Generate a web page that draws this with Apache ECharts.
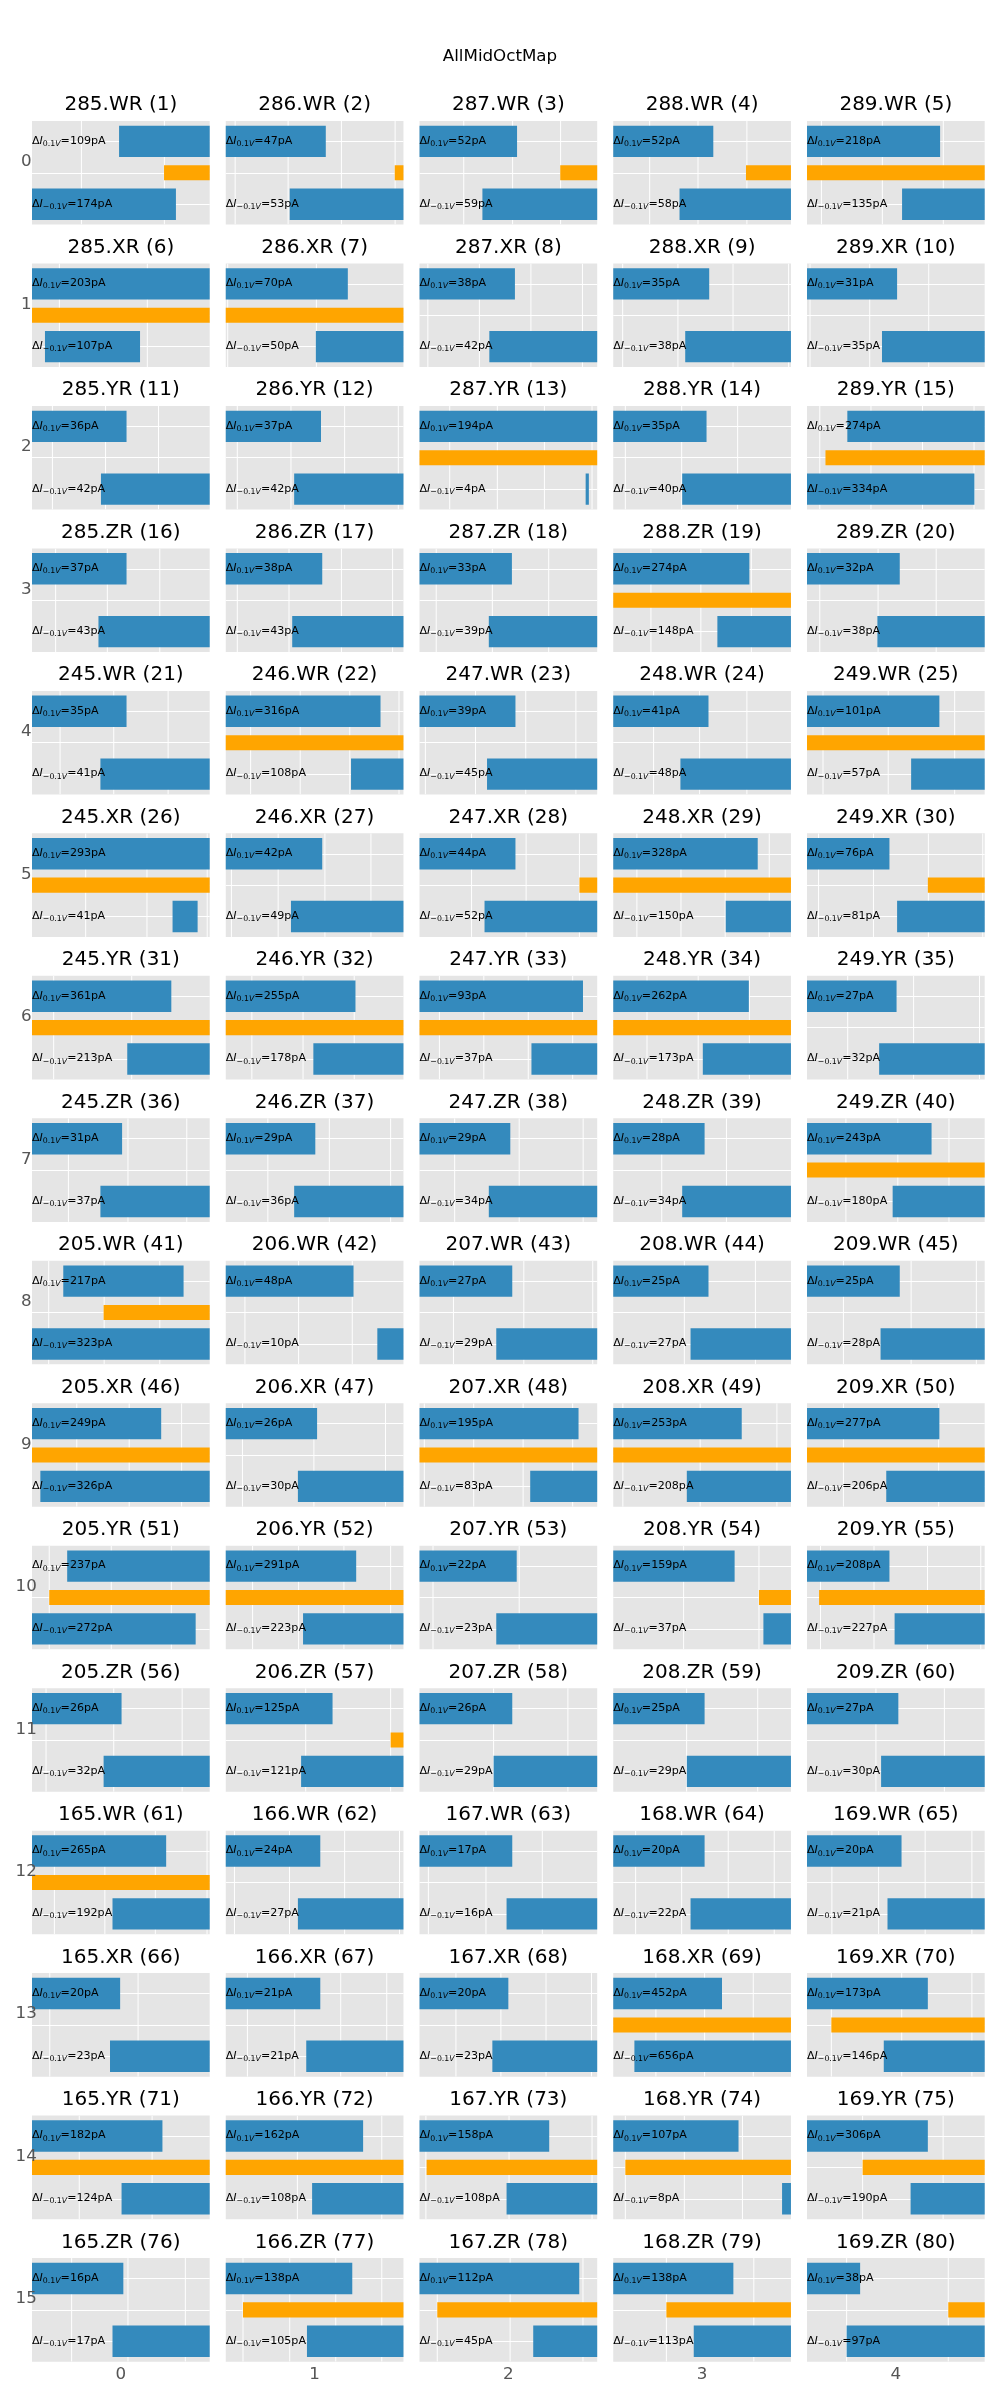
<!DOCTYPE html>
<html>
<head>
<meta charset="utf-8">
<script src="https://cdn.jsdelivr.net/npm/echarts@6/dist/echarts.min.js"></script>
<style>
html,body{margin:0;padding:0;background:#ffffff;}
#chart{width:1000px;height:2400px;}
</style>
</head>
<body>
<div id="chart"></div>
<script>
// ---------------- data ----------------
const mainTitle = 'AllMidOctMap';
const rowLabels = ['0','1','2','3','4','5','6','7','8','9','10','11','12','13','14','15'];
const colLabels = ['0','1','2','3','4'];

const panelTitles = [
  '285.WR (1)','286.WR (2)','287.WR (3)','288.WR (4)','289.WR (5)',
  '285.XR (6)','286.XR (7)','287.XR (8)','288.XR (9)','289.XR (10)',
  '285.YR (11)','286.YR (12)','287.YR (13)','288.YR (14)','289.YR (15)',
  '285.ZR (16)','286.ZR (17)','287.ZR (18)','288.ZR (19)','289.ZR (20)',
  '245.WR (21)','246.WR (22)','247.WR (23)','248.WR (24)','249.WR (25)',
  '245.XR (26)','246.XR (27)','247.XR (28)','248.XR (29)','249.XR (30)',
  '245.YR (31)','246.YR (32)','247.YR (33)','248.YR (34)','249.YR (35)',
  '245.ZR (36)','246.ZR (37)','247.ZR (38)','248.ZR (39)','249.ZR (40)',
  '205.WR (41)','206.WR (42)','207.WR (43)','208.WR (44)','209.WR (45)',
  '205.XR (46)','206.XR (47)','207.XR (48)','208.XR (49)','209.XR (50)',
  '205.YR (51)','206.YR (52)','207.YR (53)','208.YR (54)','209.YR (55)',
  '205.ZR (56)','206.ZR (57)','207.ZR (58)','208.ZR (59)','209.ZR (60)',
  '165.WR (61)','166.WR (62)','167.WR (63)','168.WR (64)','169.WR (65)',
  '165.XR (66)','166.XR (67)','167.XR (68)','168.XR (69)','169.XR (70)',
  '165.YR (71)','166.YR (72)','167.YR (73)','168.YR (74)','169.YR (75)',
  '165.ZR (76)','166.ZR (77)','167.ZR (78)','168.ZR (79)','169.ZR (80)'
];

// ΔI at +0.1V and -0.1V (pA)
const dIPos = [
  109,47,52,52,218,  203,70,38,35,31,  36,37,194,35,274,  37,38,33,274,32,
  35,316,39,41,101,  293,42,44,328,76, 361,255,93,262,27, 31,29,29,28,243,
  217,48,27,25,25,   249,26,195,253,277, 237,291,22,159,208, 26,125,26,25,27,
  265,24,17,20,20,   20,21,20,452,173, 182,162,158,107,306, 16,138,112,138,38
];
const dINeg = [
  174,53,59,58,135,  107,50,42,38,35,  42,42,4,40,334,  43,43,39,148,38,
  41,108,45,48,57,   41,49,52,150,81,  213,178,37,173,32, 37,36,34,34,180,
  323,10,29,27,28,   326,30,83,208,206, 272,223,23,37,227, 32,121,29,29,30,
  192,27,16,22,21,   23,21,23,656,146, 124,108,108,8,190, 17,105,45,113,97
];

// bar extents [start, end] on each panel's x range (0..1)
const topBars = [
  [0.49,1],[0,0.563],[0,0.549],[0,0.563],[0,0.749],
  [0,1],[0,0.687],[0,0.537],[0,0.54],[0,0.507],
  [0,0.532],[0,0.536],[0,1],[0,0.525],[0.227,1],
  [0,0.532],[0,0.543],[0,0.52],[0,0.766],[0,0.522],
  [0,0.532],[0,0.871],[0,0.54],[0,0.536],[0,0.745],
  [0,1],[0,0.543],[0,0.54],[0,0.813],[0,0.464],
  [0,0.784],[0,0.73],[0,0.92],[0,0.763],[0,0.504],
  [0,0.507],[0,0.504],[0,0.511],[0,0.514],[0,0.701],
  [0.176,0.853],[0,0.719],[0,0.522],[0,0.536],[0,0.522],
  [0,0.727],[0,0.514],[0,0.895],[0,0.723],[0,0.745],
  [0.198,1],[0,0.734],[0,0.547],[0,0.683],[0,0.464],
  [0,0.504],[0,0.601],[0,0.522],[0,0.514],[0,0.514],
  [0,0.755],[0,0.532],[0,0.522],[0,0.514],[0,0.532],
  [0,0.496],[0,0.532],[0,0.5],[0,0.612],[0,0.68],
  [0,0.734],[0,0.773],[0,0.73],[0,0.705],[0,0.68],
  [0,0.514],[0,0.712],[0,0.899],[0,0.676],[0,0.299]
];
const midBars = [
  [0.743,1],[0.951,1],[0.792,1],[0.747,1],[0,1],
  [0,1],[0,1],null,null,null,
  null,null,[0,1],null,[0.104,1],
  null,null,null,[0,1],null,
  null,[0,1],null,null,[0,1],
  [0,1],null,[0.9,1],[0,1],[0.68,1],
  [0,1],[0,1],[0,1],[0,1],null,
  null,null,null,null,[0,1],
  [0.403,1],null,null,null,null,
  [0,1],null,[0,1],[0,1],[0,1],
  [0.097,1],[0,1],null,[0.82,1],[0.068,1],
  null,[0.928,1],null,null,null,
  [0,1],null,null,null,null,
  null,null,null,[0,1],[0.137,1],
  [0,1],[0,1],[0.04,1],[0.068,1],[0.313,1],
  null,[0.097,1],[0.1,1],[0.299,1],[0.795,1]
];
const botBars = [
  [0,0.81],[0.36,1],[0.354,1],[0.373,1],[0.535,1],
  [0.073,0.608],[0.507,1],[0.393,1],[0.405,1],[0.422,1],
  [0.388,1],[0.385,1],[0.935,0.953],[0.388,1],[0,0.942],
  [0.374,1],[0.374,1],[0.39,1],[0.586,1],[0.396,1],
  [0.385,1],[0.705,1],[0.38,1],[0.378,1],[0.586,1],
  [0.791,0.932],[0.367,1],[0.366,1],[0.633,1],[0.507,1],
  [0.536,1],[0.493,1],[0.63,1],[0.504,1],[0.406,1],
  [0.385,1],[0.385,1],[0.39,1],[0.388,1],[0.482,1],
  [0,1],[0.853,1],[0.432,1],[0.435,1],[0.414,1],
  [0.047,1],[0.406,1],[0.623,1],[0.414,1],[0.446,1],
  [0,0.921],[0.435,1],[0.432,1],[0.845,1],[0.493,1],
  [0.403,1],[0.424,1],[0.417,1],[0.414,1],[0.417,1],
  [0.453,1],[0.406,1],[0.49,1],[0.435,1],[0.453,1],
  [0.439,1],[0.453,1],[0.41,1],[0.119,1],[0.432,1],
  [0.504,1],[0.486,1],[0.49,1],[0.95,1],[0.583,1],
  [0.453,1],[0.457,1],[0.64,1],[0.453,1],[0.223,1]
];
// x tick (grid line) positions of each panel
const gridTicks = [
  [0.278,0.745],[0.053,0.351,0.651,0.953],[0.249,0.524,0.794],[0.205,0.477,0.752],[0.081,0.424,0.767],
  [0.154,0.649],[0.011,0.51],[0.047,0.337,0.627,0.917],[0.053,0.364,0.674,0.987],[0.017,0.353,0.685],
  [0.115,0.414,0.712],[0.065,0.367,0.669,0.971],[0.17,0.438,0.703,0.971],[0.068,0.385,0.70],[0.072,0.36,0.65,0.94],
  [0.133,0.424,0.719],[0.065,0.356,0.651,0.939],[0.094,0.41,0.727],[0.212,0.493,0.777],[0.072,0.4,0.727],
  [0.158,0.46,0.766],[0.14,0.419,0.698,0.975],[0.033,0.315,0.598,0.88],[0.227,0.486,0.752],[0.09,0.457,0.831],
  [0.302,0.647,0.986],[0.032,0.295,0.558,0.817],[0.293,0.6,0.9],[0.133,0.381,0.63,0.878],[0.065,0.374,0.683,0.989],
  [0.122,0.561],[0.147,0.435,0.723],[0.112,0.362,0.612,0.862],[0.19,0.478,0.766],[0.229,0.6,0.971],
  [0.205,0.54,0.871],[0.237,0.583,0.928],[0.198,0.561,0.921],[0.273,0.637],[0.219,0.511,0.799],
  [0.094,0.406,0.719],[0.108,0.41,0.712],[0.191,0.587,0.975],[0.4,0.8],[0.205,0.586,0.953],
  [0.252,0.547,0.842],[0.094,0.496,0.899],[0.027,0.305,0.583,0.862],[0.054,0.489,0.921],[0.205,0.741],
  [0.097,0.446,0.784],[0.151,0.41,0.665,0.928],[0.076,0.561],[0.396,0.82],[0.076,0.377,0.678,0.978],
  [0.079,0.46,0.845],[0.45,0.928],[0.417,0.835],[0.413,0.813],[0.388,0.773],
  [0.126,0.41,0.694,0.985],[0.049,0.359,0.669,0.978],[0.05,0.374,0.691],[0.126,0.385,0.647,0.906],[0.14,0.403,0.665,0.928],
  [0.1,0.597],[0.122,0.388,0.647,0.906],[0.205,0.458,0.712,0.968],[0.24,0.514,0.788],[0.137,0.533,0.928],
  [0.266,0.676],[0.403,0.878],[0.036,0.504,0.971],[0.068,0.4,0.727],[0.313,0.766],
  [0.223,0.54,0.863],[0.097,0.36,0.619,0.878],[0.1,0.51,0.92],[0.299,0.791],[0.223,0.795]
];

// ---------------- layout / style ----------------
const FONT = "'DejaVu Sans', sans-serif";
const BLUE = '#348ABD', ORANGE = '#FFA500', PANEL_BG = '#E5E5E5';
const NCOL = 5;
const GRID_LEFT0 = 32, COL_PITCH = 193.75, GRID_W = 177.7;
const GRID_TOP0 = 121, ROW_PITCH = 142.47, GRID_H = 103.6;
const Y_MIN = -0.65, Y_MAX = 2.65;

const RICH = {
  d: {fontFamily: FONT, fontSize: 11.1, lineHeight: 14, fill: '#000'},
  i: {fontFamily: FONT, fontSize: 11.1, fontStyle: 'italic', lineHeight: 14, fill: '#000'},
  s: {fontFamily: FONT, fontSize: 7.8, lineHeight: 7, verticalAlign: 'bottom', fill: '#000'},
  v: {fontFamily: FONT, fontSize: 7.8, fontStyle: 'italic', lineHeight: 7, verticalAlign: 'bottom', fill: '#000'},
  m: {fontFamily: FONT, fontSize: 11.1, lineHeight: 14, fill: '#000'}
};
function labelText(sub, value) {
  return '{d|\u0394}{i|I}{s|' + sub + '}{v|V}{m|=' + value + 'pA}';
}

function renderGridLine(params, api) {
  const g = api.value(0);
  const a = api.coord([g, Y_MIN]);
  const b = api.coord([g, Y_MAX]);
  return {type: 'line', silent: true,
    shape: {x1: a[0], y1: a[1], x2: b[0], y2: b[1]},
    style: {stroke: '#ffffff', lineWidth: 1}};
}
function renderBar(params, api) {
  const s = api.value(0), e = api.value(1), y = api.value(2), h = api.value(3), kind = api.value(4);
  const p0 = api.coord([s, y - h / 2]);
  const p1 = api.coord([e, y + h / 2]);
  return {type: 'rect', silent: true,
    shape: {x: Math.min(p0[0], p1[0]), y: Math.min(p0[1], p1[1]),
            width: Math.abs(p1[0] - p0[0]), height: Math.abs(p1[1] - p0[1])},
    style: {fill: kind === 1 ? ORANGE : BLUE}};
}
function makeLabelRenderer(p) {
  return function (params, api) {
    const y = api.value(1);
    const pt = api.coord([0, y]);
    const txt = params.dataIndex === 0 ? labelText('0.1', dIPos[p]) : labelText('\u22120.1', dINeg[p]);
    return {type: 'text', silent: true, x: pt[0], y: pt[1] - 0.5,
      style: {text: txt, rich: RICH, x: 0, y: 0, align: 'left', verticalAlign: 'middle',
              fontFamily: FONT, fontSize: 11.1, fill: '#000'}};
  };
}

const option = {
  animation: false,
  backgroundColor: '#ffffff',
  textStyle: {fontFamily: FONT},
  title: [], grid: [], xAxis: [], yAxis: [], series: []
};

option.title.push({
  text: mainTitle, left: 500, top: 48.2, padding: 0,
  textAlign: 'center', textVerticalAlign: 'top',
  textStyle: {fontSize: 16.7, fontWeight: 'normal', color: '#000', fontFamily: FONT}
});

for (let p = 0; p < panelTitles.length; p++) {
  const r = Math.floor(p / NCOL), c = p % NCOL;
  const gl = GRID_LEFT0 + c * COL_PITCH;
  const gt = GRID_TOP0 + r * ROW_PITCH;
  option.title.push({
    text: panelTitles[p], left: gl + GRID_W / 2, top: gt - 25.75, padding: 0,
    textAlign: 'center', textVerticalAlign: 'top',
    textStyle: {fontSize: 20, fontWeight: 'normal', color: '#000', fontFamily: FONT}
  });
  option.grid.push({left: gl, top: gt, width: GRID_W, height: GRID_H, show: true,
    backgroundColor: PANEL_BG, borderWidth: 0, z: 1, containLabel: false, outerBoundsMode: 'none'});
  option.xAxis.push({type: 'value', gridIndex: p, min: 0, max: 1, show: false});
  option.yAxis.push({type: 'value', gridIndex: p, min: Y_MIN, max: Y_MAX, inverse: true,
    minInterval: 1, maxInterval: 1, z: 1,
    axisLine: {show: false}, axisTick: {show: false}, axisLabel: {show: false},
    splitLine: {show: true, showMinLine: false, showMaxLine: false, lineStyle: {color: '#ffffff', width: 1}}});

  option.series.push({
    type: 'custom', xAxisIndex: p, yAxisIndex: p, z: 1, silent: true, clip: true,
    renderItem: renderGridLine, encode: {x: 0, y: 1},
    data: gridTicks[p].map(g => [g, 1])
  });
  const bars = [[topBars[p][0], topBars[p][1], 0, 1.0, 0]];
  if (midBars[p]) bars.push([midBars[p][0], midBars[p][1], 1, 0.48, 1]);
  bars.push([botBars[p][0], botBars[p][1], 2, 1.0, 0]);
  option.series.push({
    type: 'custom', xAxisIndex: p, yAxisIndex: p, z: 2, silent: true, clip: true,
    renderItem: renderBar, encode: {x: [0, 1], y: 2}, data: bars
  });
  option.series.push({
    type: 'custom', xAxisIndex: p, yAxisIndex: p, z: 3, silent: true, clip: false,
    renderItem: makeLabelRenderer(p), encode: {x: 0, y: 1}, data: [[0, 0], [0, 2]]
  });
}

// outer row labels (0..15)
const NP = panelTitles.length;
option.grid.push({left: GRID_LEFT0, top: GRID_TOP0 + 41 - ROW_PITCH / 2, width: 10,
  height: ROW_PITCH * rowLabels.length, show: false, containLabel: false, outerBoundsMode: 'none'});
option.xAxis.push({type: 'value', gridIndex: NP, show: false});
option.yAxis.push({type: 'category', gridIndex: NP, data: rowLabels, inverse: true, z: 10,
  axisLine: {show: false}, axisTick: {show: false}, splitLine: {show: false},
  axisLabel: {show: true, interval: 0, margin: 5.8, align: 'center',
    fontSize: 16.7, color: '#555555', fontFamily: FONT}});
// outer column labels (0..4)
option.grid.push({left: GRID_LEFT0 + GRID_W / 2 - COL_PITCH / 2, top: 2300, width: COL_PITCH * colLabels.length,
  height: 60, show: false, containLabel: false, outerBoundsMode: 'none'});
option.xAxis.push({type: 'category', gridIndex: NP + 1, data: colLabels, position: 'bottom', z: 10,
  axisLine: {show: false}, axisTick: {show: false}, splitLine: {show: false},
  axisLabel: {show: true, interval: 0, margin: 6.4, fontSize: 16.7, color: '#555555', fontFamily: FONT}});
option.yAxis.push({type: 'value', gridIndex: NP + 1, show: false});

const chart = echarts.init(document.getElementById('chart'), null, {renderer: 'canvas'});
chart.setOption(option);
</script>
</body>
</html>
